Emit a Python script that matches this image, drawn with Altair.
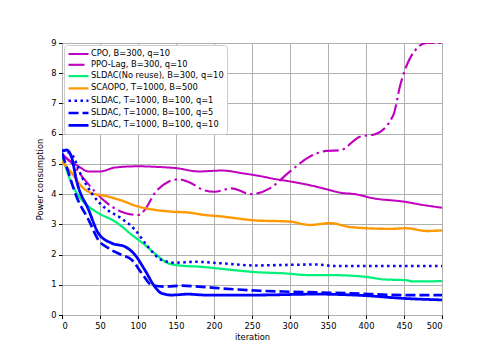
import altair as alt
import pandas as pd

names = [
    "CPO, B=300, q=10",
    "PPO-Lag, B=300, q=10",
    "SLDAC(No reuse), B=300, q=10",
    "SCAOPO, T=1000, B=500",
    "SLDAC, T=1000, B=100, q=1",
    "SLDAC, T=1000, B=100, q=5",
    "SLDAC, T=1000, B=100, q=10",
]
colors = ["#bf00bf", "#bf00bf", "#00f07a", "#ff9900", "#0000ff", "#0000ff", "#0000ff"]
dashes = [[1, 0], [16, 4, 2.5, 4], [1, 0], [1, 0], [2.5, 3.5], [10, 4], [1, 0]]
widths = [2, 2.8, 2, 2, 2.8, 2.8, 2.2]

cpo_x = [0, 10, 20, 35, 50, 70, 100, 125, 150, 180, 210, 240, 260, 280, 300, 325, 350, 365, 385, 410, 450, 475, 500]
cpo_y = [5.35, 5.1, 4.95, 4.75, 4.75, 4.88, 4.92, 4.9, 4.86, 4.75, 4.78, 4.68, 4.6, 4.5, 4.42, 4.3, 4.15, 4.05, 4.0, 3.86, 3.75, 3.64, 3.55]

ppo_x = [0, 10, 30, 57, 78, 100, 109, 122, 140, 153, 166, 188, 201, 223, 249, 274, 300, 326, 348, 366, 392, 412, 436, 445, 458, 480, 500]
ppo_y = [5.3, 5.1, 4.47, 3.75, 3.42, 3.31, 3.48, 4.03, 4.41, 4.49, 4.41, 4.12, 4.08, 4.19, 4.0, 4.2, 4.75, 5.24, 5.43, 5.45, 5.9, 5.98, 6.62, 7.6, 8.5, 9.0, 9.0]

nore_x = [0, 6, 17, 35, 48, 70, 92, 109, 122, 140, 158, 180, 201, 232, 254, 291, 326, 353, 397, 423, 453, 462, 500]
nore_y = [5.35, 4.8, 4.14, 3.59, 3.37, 3.09, 2.65, 2.32, 2.04, 1.71, 1.63, 1.6, 1.55, 1.47, 1.42, 1.38, 1.32, 1.32, 1.27, 1.18, 1.15, 1.11, 1.12]

sca_x = [0, 13, 26, 39, 57, 78, 100, 122, 144, 166, 188, 210, 254, 300, 326, 353, 379, 432, 453, 480, 500]
sca_y = [5.08, 4.69, 4.25, 4.03, 3.94, 3.79, 3.59, 3.48, 3.42, 3.39, 3.31, 3.26, 3.13, 3.09, 2.98, 3.04, 2.91, 2.85, 2.87, 2.78, 2.8]

q1_x = [0, 13, 26, 39, 57, 78, 96, 113, 131, 149, 175, 210, 254, 300, 335, 360, 400, 500]
q1_y = [5.45, 5.3, 4.58, 4.03, 3.53, 3.2, 2.82, 2.26, 1.82, 1.73, 1.76, 1.71, 1.64, 1.66, 1.67, 1.62, 1.62, 1.62]

q5_x = [0, 6, 19, 35, 48, 61, 78, 92, 105, 118, 135, 158, 180, 210, 254, 300, 379, 449, 500]
q5_y = [5.35, 4.91, 3.92, 3.15, 2.48, 2.21, 1.99, 1.82, 1.38, 0.99, 0.94, 0.97, 0.94, 0.88, 0.81, 0.77, 0.72, 0.66, 0.66]

q10_x = [0, 6, 13, 19, 35, 48, 66, 83, 96, 109, 122, 131, 144, 166, 188, 210, 254, 335, 400, 449, 500]
q10_y = [5.41, 5.46, 5.19, 4.46, 3.48, 2.7, 2.37, 2.26, 1.99, 1.49, 0.94, 0.72, 0.66, 0.69, 0.66, 0.66, 0.66, 0.69, 0.64, 0.55, 0.5]

series = [(cpo_x, cpo_y), (ppo_x, ppo_y), (nore_x, nore_y), (sca_x, sca_y),
          (q1_x, q1_y), (q5_x, q5_y), (q10_x, q10_y)]

rows = []
for i, (xs, ys) in enumerate(series):
    for j, (xv, yv) in enumerate(zip(xs, ys)):
        rows.append({"series": names[i], "iteration": xv, "power": yv, "order": j})
df = pd.DataFrame(rows)

FONT = "DejaVu Sans"
FS = 8.3

legend = alt.Legend(
    title=None, orient="none", legendX=2, legendY=2,
    symbolType="M-2,0H2", symbolSize=100, symbolStrokeWidth=2.5,
    labelFont=FONT, labelFontSize=FS, labelColor="black",
    rowPadding=0.3, fillColor="white", strokeColor="#cccccc",
    cornerRadius=3, padding=3, labelLimit=300, symbolOffset=5, labelOffset=6,
)

chart = alt.Chart(df).mark_line(interpolate="monotone", clip=True).encode(
    x=alt.X("iteration:Q", scale=alt.Scale(domain=[0, 500], nice=False),
            axis=alt.Axis(values=list(range(0, 501, 50)), title="iteration")),
    y=alt.Y("power:Q", scale=alt.Scale(domain=[0, 9], nice=False),
            axis=alt.Axis(values=list(range(0, 10)), title="Power consumption")),
    color=alt.Color("series:N", scale=alt.Scale(domain=names, range=colors), legend=legend, sort=names),
    strokeDash=alt.StrokeDash("series:N", scale=alt.Scale(domain=names, range=dashes), legend=legend, sort=names),
    strokeWidth=alt.StrokeWidth("series:N", scale=alt.Scale(domain=names, range=widths), legend=None, sort=names),
    detail="series:N",
    order="order:Q",
).properties(
    width=380, height=272,
    autosize=alt.AutoSizeParams(type="none"),
    padding={"left": 54, "top": 35, "right": 41, "bottom": 31},
).configure_view(
    stroke="black", strokeWidth=1
).configure_axis(
    domain=False, tickColor="black", tickSize=3.5, tickWidth=1,
    gridColor="#b0b0b0", gridWidth=1, gridOpacity=1,
    labelFont=FONT, labelFontSize=FS, labelColor="black", labelPadding=2.5,
    titleFont=FONT, titleFontSize=FS, titleFontWeight="normal", titleColor="black",
).configure_axisX(titlePadding=3).configure_axisY(titlePadding=6)

chart.save("out.html", embed_options={"renderer": "svg", "actions": False})
